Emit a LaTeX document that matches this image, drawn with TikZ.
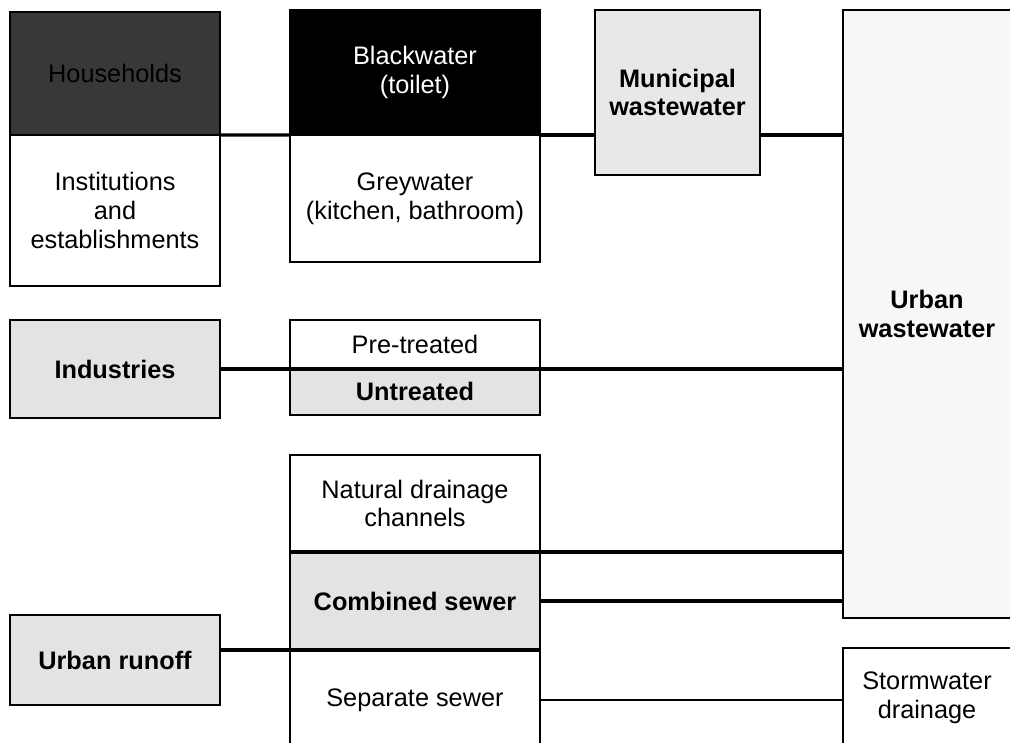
\documentclass[tikz,border=0pt]{standalone}
\usepackage{fontspec}
\setmainfont{Liberation Sans}
\usepackage{tikz}

\begin{document}
\begin{tikzpicture}[
    x=0.025cm, y=-0.025cm,
    every node/.style={font={\fontsize{18}{20.5}\selectfont}, align=center,
        inner sep=0pt, outer sep=0pt},
    box/.style={draw=black, line width=1.1pt, fill=white},
    light/.style={box, fill=black!11},
    label/.style={font={\fontsize{18}{20.5}\selectfont\bfseries}},
    pipe/.style={draw=black, line width=2.3pt},
    thinpipe/.style={draw=black, line width=1.3pt},
    ]
        \useasboundingbox (0,0) rectangle (1010,742);
        \fill[white] (0,0) rectangle (1010,742);
        \clip (0,0) rectangle (1010,742);

        % Sources (left column)
        \node[box, fill=black!78, line width=1.6pt, minimum width=5.25cm, minimum height=3.075cm] (house) at (115,73.5) {Households};
        \node[box, minimum width=5.25cm, minimum height=3.775cm] (inst) at (115,210.5) {Institutions\\and\\establishments};
        \node[light, label, minimum width=5.25cm, minimum height=2.45cm] (ind) at (115,369) {Industries};
        \node[light, label, minimum width=5.25cm, minimum height=2.25cm] (runoff) at (115,660) {Urban runoff};

        % Middle column
        \node[box, fill=black, text=white, minimum width=6.25cm, minimum height=3.125cm] (black) at (415,72.5) {Blackwater\\(toilet)};
        \node[box, minimum width=6.25cm, minimum height=3.175cm] (grey) at (415,198.5) {Greywater\\(kitchen, bathroom)};
        \node[box, minimum width=6.25cm, minimum height=1.2cm] (pre) at (415,344) {Pre-treated};
        \node[light, label, minimum width=6.25cm, minimum height=1.175cm] (untr) at (415,391.5) {Untreated};
        \node[box, minimum width=6.25cm, minimum height=2.425cm] (nat) at (415,503.5) {Natural drainage\\channels};
        \node[light, label, minimum width=6.25cm, minimum height=2.45cm] (comb) at (415,601) {Combined sewer};
        \node[box, minimum width=6.25cm, minimum height=2.5cm] (sep) at (415,700) {Separate sewer};

        % Receiving side
        \node[light, label, fill=black!9, minimum width=4.125cm, minimum height=4.125cm] (muni) at (677.5,92.5) {Municipal\\wastewater};
        \node[box, label, fill=black!3, minimum width=4.2cm, minimum height=15.2cm] (uww) at (927,314) {Urban\\wastewater};
        \node[box, minimum width=4.2cm, minimum height=2.5cm] (storm) at (927,698) {Stormwater\\drainage};

        % Connections
        \draw[pipe] (house.south east) -- (black.south west);
        \draw[pipe] (black.south east) -- (muni.west |- black.south);
        \draw[pipe] (muni.east |- black.south) -- (uww.west |- black.south);
        \draw[pipe] (ind.east) -- (uww.west |- ind.east);
        \draw[pipe] (nat.south west) -- (uww.west |- nat.south);
        \draw[pipe] (comb.east) -- (uww.west |- comb.east);
        \draw[pipe] (runoff.east |- comb.south) -- (comb.south east);
        \draw[thinpipe] (sep.east) -- (storm.west |- sep.east);

    \end{tikzpicture}
\end{document}
